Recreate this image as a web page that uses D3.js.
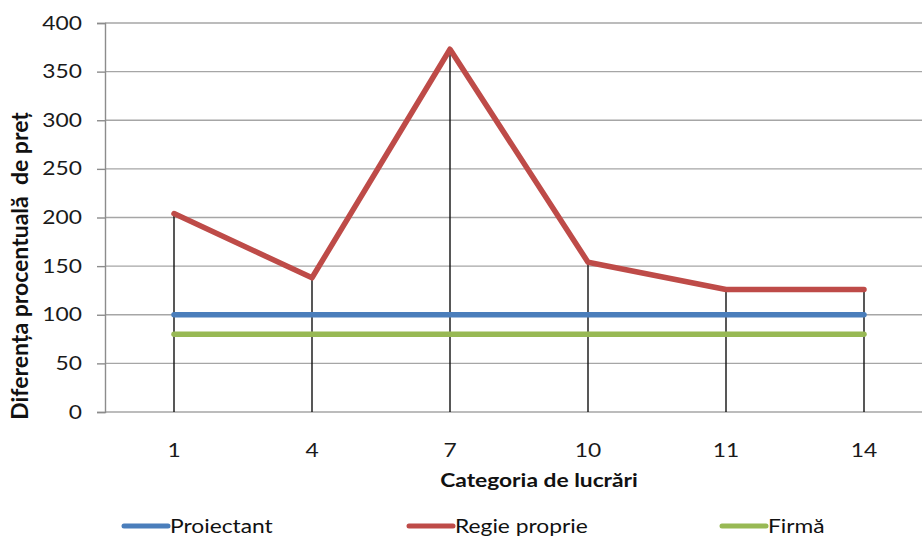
<!DOCTYPE html>
<html><head><meta charset="utf-8">
<script src="https://cdn.jsdelivr.net/npm/d3@7"></script>
<style>body{margin:0;background:#fff}svg{display:block}text{font-family:Lato,"Open Sans","Noto Sans",sans-serif}</style>
</head><body>
<svg id="c" width="922" height="541"></svg>
<script>
const categories = ["1","4","7","10","11","14"];
const proiectant = [100,100,100,100,100,100];
const regie = [204,138,373,154,126,126];
const firma = [80,80,80,80,80,80];
const yTicks = [0,50,100,150,200,250,300,350,400];
const seriesNames = ["Proiectant","Regie proprie","Firmă"];
const colors = ["#4a7ebb","#be4b48","#98b954"];

(function(){
const svg = d3.select("#c");
const SX = 1.2, FS = 19;
const pLeft = 105, pRight = 933, pTop = 23, pBottom = 412;
const x = d3.scaleBand().domain(categories).range([pLeft, pRight]);
const y = d3.scaleLinear().domain([0,400]).range([pBottom, pTop]);
const cx = c => x(c) + x.bandwidth()/2;

// gridlines
svg.append("g").selectAll("line").data(yTicks).join("line")
  .attr("x1", pLeft).attr("x2", 922).attr("y1", d=>y(d)).attr("y2", d=>y(d))
  .attr("stroke","#a6a6a6").attr("stroke-width",1.4);

// y axis
const ya = svg.append("g").attr("transform",`translate(${pLeft},0)`)
  .call(d3.axisLeft(y).tickValues(yTicks).tickSize(8).tickPadding(10));
ya.select(".domain").attr("stroke","#8c8c8c").attr("stroke-width",1.4);
ya.selectAll(".tick line").attr("stroke","#8c8c8c").attr("stroke-width",1.4);
ya.selectAll(".tick text").attr("font-size",FS).attr("fill","#1a1a1a")
  .style("font-family","Lato, sans-serif")
  .attr("x", -23/SX).attr("transform",`scale(${SX},1)`);

// x axis labels
const xa = svg.append("g").attr("transform",`translate(0,${pBottom})`)
  .call(d3.axisBottom(x).tickSize(0));
xa.select(".domain").remove();
xa.selectAll(".tick text").attr("font-size",FS).attr("fill","#1a1a1a")
  .style("font-family","Lato, sans-serif")
  .attr("y",45).attr("dy",0).attr("transform",`scale(${SX},1)`);

// drop lines
const maxVals = categories.map((c,i)=>Math.max(proiectant[i],regie[i],firma[i]));
svg.append("g").selectAll("line").data(categories).join("line")
  .attr("x1", d=>cx(d)).attr("x2", d=>cx(d))
  .attr("y1", (d,i)=>y(maxVals[i])).attr("y2", pBottom)
  .attr("stroke","#111").attr("stroke-width",1.4);

// series
const data = [proiectant, regie, firma];
const line = d3.line().x((d,i)=>cx(categories[i])).y(d=>y(d));
svg.append("g").selectAll("path").data(data).join("path")
  .attr("d", line).attr("fill","none")
  .attr("stroke",(d,i)=>colors[i]).attr("stroke-width",5.5)
  .attr("stroke-linejoin","round").attr("stroke-linecap","round");

// axis titles
svg.append("g").attr("transform","translate(539,487)")
  .append("text").attr("text-anchor","middle").attr("transform",`scale(${SX},1)`)
  .attr("font-size",FS).attr("font-weight","bold").attr("fill","#111")
  .text("Categoria de lucrări");
svg.append("text").attr("transform","translate(28,266) rotate(-90)").attr("text-anchor","middle")
  .attr("font-size",23).attr("font-weight","bold").attr("fill","#111")
  .style("white-space","pre")
  .text("Diferența procentuală  de preț");

// legend
const legX = [124, 409, 722];
const lg = svg.append("g").selectAll("g").data(seriesNames).join("g")
  .attr("transform",(d,i)=>`translate(${legX[i]},526)`);
lg.append("line").attr("x1",0).attr("x2",44).attr("y1",0).attr("y2",0)
  .attr("stroke",(d,i)=>colors[i]).attr("stroke-width",5).attr("stroke-linecap","round");
lg.append("text").attr("x",46/SX).attr("y",7).attr("transform",`scale(${SX},1)`)
  .attr("font-size",FS).attr("fill","#111").text(d=>d);
})();
</script>
</body></html>
